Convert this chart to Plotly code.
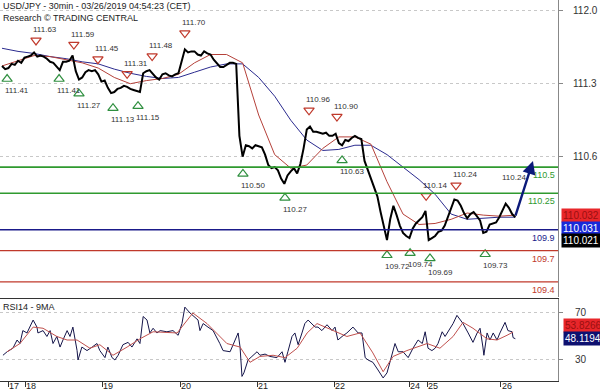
import plotly.graph_objects as go

# ---------------- data ----------------
hours = list(range(161))  # hourly closes, hours since chart start
close = [111.47, 111.44, 111.45, 111.49, 111.48, 111.52, 111.50, 111.55, 111.56, 111.57,
         111.60, 111.56, 111.57, 111.56, 111.54, 111.51, 111.50, 111.47, 111.43, 111.51,
         111.51, 111.52, 111.57, 111.42, 111.34, 111.36, 111.41, 111.43, 111.42, 111.43,
         111.39, 111.32, 111.33, 111.26, 111.21, 111.22, 111.25, 111.26, 111.28, 111.27,
         111.25, 111.24, 111.23, 111.22, 111.40, 111.42, 111.43, 111.39, 111.36, 111.34,
         111.39, 111.40, 111.38, 111.37, 111.39, 111.40, 111.51, 111.63, 111.60, 111.61,
         111.61, 111.58, 111.57, 111.61, 111.59, 111.58, 111.53, 111.49, 111.46, 111.46,
         111.48, 111.50, 111.50, 111.49, 110.80, 110.60, 110.71, 110.70, 110.68, 110.71,
         110.70, 110.69, 110.62, 110.52, 110.49, 110.50, 110.47, 110.39, 110.34, 110.42,
         110.46, 110.49, 110.44, 110.53, 110.68, 110.86, 110.89, 110.84, 110.84, 110.83,
         110.82, 110.83, 110.80, 110.80, 110.82, 110.73, 110.71, 110.76, 110.75, 110.78,
         110.80, 110.78, 110.77, 110.56, 110.48, 110.40, 110.31, 110.22, 110.07, 109.94,
         109.80, 110.00, 110.13, 110.04, 109.94, 109.87, 109.84, 109.82, 109.91, 109.96,
         109.99, 110.02, 110.08, 109.80, 109.82, 109.84, 109.88, 109.89, 109.94, 110.02,
         110.11, 110.19, 110.18, 110.13, 110.06, 110.01, 110.05, 110.07, 110.03, 109.99,
         109.87, 109.88, 109.95, 109.96, 109.97, 110.02, 110.08, 110.15, 110.11, 110.05,
         110.02]

ma_hours = list(range(0, 161, 5))
ma_fast = [111.47, 111.52, 111.57, 111.56, 111.53, 111.50, 111.45, 111.36, 111.30, 111.33,
           111.35, 111.39, 111.50, 111.58, 111.58, 111.50, 111.00, 110.62, 110.49, 110.52,
           110.68, 110.79, 110.79, 110.72, 110.36, 110.05, 109.95, 109.96, 110.00, 110.06,
           110.04, 110.03, 110.04]
ma_slow = [111.64, 111.61, 111.59, 111.56, 111.54, 111.51, 111.49, 111.44, 111.40, 111.37,
           111.35, 111.36, 111.41, 111.46, 111.49, 111.49, 111.36, 111.18, 110.95, 110.76,
           110.66, 110.67, 110.71, 110.71, 110.62, 110.50, 110.38, 110.24, 110.05, 110.00,
           110.01, 110.02, 110.02]

rsi_h = [0.3, 1.6, 3.4, 4.7, 5.6, 6.5, 7.8, 8.7, 9.7, 10.9, 11.2, 12.8, 14.0, 15.0, 15.9,
         17.1, 18.1, 19.0, 20.3, 21.2, 22.1, 23.4, 23.7, 24.9, 26.5, 28.1, 29.6, 30.5, 32.1,
         33.0, 34.3, 35.2, 36.2, 37.7, 39.3, 40.5, 42.1, 43.0, 44.0, 45.2, 46.1, 47.1, 48.3,
         49.3, 51.4, 53.3, 54.9, 56.1, 57.0, 58.6, 59.5, 61.1, 61.7, 62.7, 64.2, 65.8, 67.9,
         68.9, 71.1, 72.6, 73.6, 74.2, 74.8, 75.4, 75.7, 76.7, 77.9, 79.5, 80.4, 82.0, 83.5,
         85.7, 87.3, 88.2, 89.1, 90.4, 91.3, 92.3, 93.5, 94.4, 95.4, 96.6, 97.6, 98.5, 99.7,
         101.3, 102.9, 103.8, 104.7, 106.0, 107.5, 109.4, 111.0, 112.2, 113.2, 114.1, 115.6,
         117.2, 118.8, 120.0, 122.5, 123.5, 125.0, 126.6, 128.1, 129.7, 131.0, 131.9, 132.8,
         134.0, 135.0, 135.9, 137.2, 138.1, 139.0, 140.6, 141.8, 142.8, 143.7, 145.3, 146.8,
         148.1, 149.0, 149.9, 150.2, 151.2, 152.1, 153.1, 154.3, 155.2, 156.8, 157.7, 159.0,
         159.3, 160.0]
rsi_v = [34, 37, 40, 47, 44, 55, 53, 58, 64, 58, 53, 55, 50, 55, 44,
         50, 41, 47, 55, 50, 58, 38, 30, 41, 38, 41, 44, 38, 32,
         41, 32, 30, 34, 43, 45, 41, 48, 44, 67, 64, 53, 57, 53,
         55, 54, 55, 51, 61, 75, 70, 68, 64, 55, 61, 58, 55, 44,
         38, 37, 47, 53, 41, 16, 19, 22, 30, 33, 37, 34, 35, 33,
         32, 37, 28, 37, 50, 53, 43, 53, 61, 64, 61, 58, 58, 55,
         60, 55, 58, 47, 50, 53, 58, 53, 53, 32, 30, 28,
         21.5, 14.7, 19, 44, 37, 37, 32, 40, 47, 44, 54, 40,
         38, 40, 44, 54, 50, 54, 61, 68, 64, 61, 53, 45,
         53, 57, 41, 34, 53, 47, 53, 47, 53, 62, 55, 54,
         49, 48.1]
rsi_ma_h = [1.6, 5.6, 9.7, 12.8, 17.1, 20.3, 23.4, 27.4, 30.5, 34.6, 39.0, 43.0, 47.1, 54.6,
            59.5, 63.9, 70.1, 74.2, 77.3, 80.4, 84.5, 88.2, 92.0, 95.1, 98.2, 103.2, 107.5,
            111.6, 115.6, 118.8, 121.9, 126.2, 132.5, 136.5, 140.6, 143.7, 146.8, 151.2,
            154.3, 157.4, 159.3]
rsi_ma_v = [37, 44, 58, 57, 50, 47, 47, 40, 43, 34, 41, 48, 54, 53,
            70, 61, 44, 41, 28, 33, 34, 32, 40, 53, 61, 55, 50,
            53, 36, 20, 33, 38, 44, 40, 50, 62, 57, 48,
            47, 51, 53.8]

peak_h = [10.6, 22.4, 29.9, 39.0, 46.8, 57.0, 95.7, 104.4, 132.2, 141.5]
peak_v = [111.63, 111.59, 111.45, 111.31, 111.48, 111.70, 110.96, 110.90, 110.14, 110.24]
trough_h = [1.6, 17.8, 24.0, 34.6, 42.4, 75.1, 88.2, 106.0, 120.0, 127.2, 133.4, 150.6]
trough_v = [111.41, 111.41, 111.27, 111.13, 111.15, 110.50, 110.27, 110.63, 109.72, 109.74,
            109.69, 109.73]

levels = [110.5, 110.25, 109.9, 109.7, 109.4]
level_labels = ["110.5", "110.25", "109.9", "109.7", "109.4"]
level_colors = ["#2f9a2f", "#2f9a2f", "#1a1a8a", "#c0392b", "#c0392b"]

day_ticks = [1.9, 7.2, 31.2, 55.5, 79.5, 103.5, 126.9, 132.5, 155.5]
day_labels = ["17", "18", "19", "20", "21", "22", "24", "25", "26"]

arrow_from = (159.9, 110.02)
arrow_to = (165.5, 110.56)
arrow_label = "110.24"

price_ticks = [112.0, 111.3, 110.6]
rsi_ticks = [70, 30]

tag_ask, tag_mid, tag_last = "110.032", "110.031", "110.021"
rsi_last, rsi_ma_last = "48.1194", "53.8266"

# ---------------- figure ----------------
FONT = "Liberation Sans, Arial, sans-serif"
fig = go.Figure()

fig.add_trace(go.Scatter(x=ma_hours, y=ma_slow, mode="lines",
                         line=dict(color="#2b2b8f", width=1), xaxis="x", yaxis="y"))
fig.add_trace(go.Scatter(x=ma_hours, y=ma_fast, mode="lines",
                         line=dict(color="#b5413a", width=1), xaxis="x", yaxis="y"))
fig.add_trace(go.Scatter(x=hours, y=close, mode="lines",
                         line=dict(color="#000000", width=2), xaxis="x", yaxis="y"))

up_off, dn_off = 0.085, -0.065
fig.add_trace(go.Scatter(x=peak_h, y=[v + up_off for v in peak_v], mode="markers",
                         marker=dict(symbol="triangle-down-open", size=9,
                                     color="#c0392b", line=dict(width=1.2)),
                         xaxis="x", yaxis="y"))
fig.add_trace(go.Scatter(x=trough_h, y=[v + dn_off for v in trough_v], mode="markers",
                         marker=dict(symbol="triangle-up-open", size=9,
                                     color="#2f8f3f", line=dict(width=1.2)),
                         xaxis="x", yaxis="y"))

fig.add_trace(go.Scatter(x=rsi_h, y=rsi_v, mode="lines",
                         line=dict(color="#15154a", width=1), xaxis="x2", yaxis="y2"))
fig.add_trace(go.Scatter(x=rsi_ma_h, y=rsi_ma_v, mode="lines",
                         line=dict(color="#c0504d", width=1), xaxis="x2", yaxis="y2"))

ann = []
lab_font = dict(family=FONT, size=8, color="#333333")
for h, v in zip(peak_h, peak_v):
    ann.append(dict(x=h, y=v + up_off, xref="x", yref="y", text=f"{v:.2f}", showarrow=False,
                    xanchor="left", yanchor="bottom", xshift=-5, yshift=4, font=lab_font))
for i, (h, v) in enumerate(zip(trough_h, trough_v)):
    extra = -3 if i == 10 else 0
    ann.append(dict(x=h, y=v + dn_off, xref="x", yref="y", text=f"{v:.2f}", showarrow=False,
                    xanchor="left", yanchor="top", xshift=-4, yshift=-5 + extra, font=lab_font))

shapes = []
for lv, lab, col in zip(levels, level_labels, level_colors):
    shapes.append(dict(type="line", xref="x domain", yref="y", x0=0, x1=1, y0=lv, y1=lv,
                       line=dict(color=col, width=1.6 if col == "#2f9a2f" else 1.4)))
    ann.append(dict(x=1, y=lv, xref="paper", yref="y", text=lab, showarrow=False,
                    xanchor="right", yanchor="top", xshift=-1, yshift=-1,
                    font=dict(family=FONT, size=9, color=col)))

# arrow
ann.append(dict(x=arrow_to[0], y=arrow_to[1], ax=arrow_from[0], ay=arrow_from[1],
                xref="x", yref="y", axref="x", ayref="y", showarrow=True,
                arrowhead=2, arrowsize=1.1, arrowwidth=2.4, arrowcolor="#0c1a7a",
                standoff=0, text=""))
ann.append(dict(x=arrow_from[0], y=arrow_to[1], xref="x", yref="y", text=arrow_label,
                showarrow=False, xanchor="center", yanchor="top", yshift=-10, xshift=-1,
                font=lab_font))

# price tags
ann.append(dict(x=1, y=float(tag_ask), xref="paper", yref="y", text=tag_ask, showarrow=False,
                xanchor="left", xshift=3, bgcolor="#e8262a",
                font=dict(family=FONT, size=10, color="#9a1010")))
ann.append(dict(x=1, y=float(tag_ask), xref="paper", yref="y", text=tag_mid, showarrow=False,
                xanchor="left", xshift=3, yshift=-13, bgcolor="#1a2ad8",
                font=dict(family=FONT, size=10, color="#ffffff")))
ann.append(dict(x=1, y=float(tag_ask), xref="paper", yref="y", text=tag_last, showarrow=False,
                xanchor="left", xshift=3, yshift=-25, bgcolor="#000000",
                font=dict(family=FONT, size=10, color="#ffffff")))
ann.append(dict(x=1, y=float(rsi_last), xref="paper", yref="y2", text=rsi_ma_last,
                showarrow=False, xanchor="left", xshift=5, yshift=13, bgcolor="#e8262a",
                font=dict(family=FONT, size=10, color="#9a1010")))
ann.append(dict(x=1, y=float(rsi_last), xref="paper", yref="y2", text=rsi_last,
                showarrow=False, xanchor="left", xshift=5, bgcolor="#0e1170",
                font=dict(family=FONT, size=10, color="#ffffff")))

# titles
ann.append(dict(x=0, y=1, xref="paper", yref="paper", xanchor="left", yanchor="top",
                text="USD/JPY - 30min - 03/26/2019 04:54:23 (CET)<br>Research © TRADING CENTRAL",
                showarrow=False, align="left", xshift=1, yshift=1,
                font=dict(family=FONT, size=9, color="#222222")))
ann.append(dict(x=0, y=1, xref="paper", yref="y2 domain", xanchor="left", yanchor="top",
                text="RSI14 - 9MA", showarrow=False, xshift=1, yshift=-1,
                font=dict(family=FONT, size=9, color="#222222")))

# day labels
for t, lab in zip(day_ticks, day_labels):
    ann.append(dict(x=t, y=0, xref="x2", yref="paper", text=lab, showarrow=False,
                    xanchor="left", yanchor="top", xshift=-1, yshift=2,
                    font=dict(family=FONT, size=9, color="#222222")))

y_top = 112.1026
y_bot = 109.255
fig.update_layout(
    width=600, height=392, margin=dict(l=0, r=42, t=0, b=11),
    paper_bgcolor="white", plot_bgcolor="white", showlegend=False,
    xaxis=dict(range=[-0.62, 173.3], domain=[0, 1], anchor="y", showticklabels=False,
               showgrid=False, zeroline=False, showline=False, ticks=""),
    xaxis2=dict(range=[-0.62, 173.3], domain=[0, 1], anchor="y2", matches="x",
                showticklabels=False, showgrid=False, zeroline=False, showline=True,
                mirror=True, linecolor="#333333", linewidth=1.2,
                tickvals=day_ticks, ticks="outside", ticklen=5, tickcolor="#333333"),
    yaxis=dict(domain=[0.2205, 1], range=[y_bot, y_top], side="right", anchor="x",
               tickvals=price_ticks, ticktext=[f"{v:.1f}" for v in price_ticks],
               ticks="outside", ticklen=4, tickcolor="#888888", ticklabelstandoff=8,
               showline=True, linecolor="#888888", linewidth=1,
               showgrid=True, gridcolor="#c8c8c8", griddash="dot", zeroline=False,
               tickfont=dict(family=FONT, size=10, color="#333333")),
    yaxis2=dict(domain=[0, 0.2152], range=[12.1, 81.9], side="right", anchor="x2",
                tickvals=rsi_ticks, ticks="outside", ticklen=4, tickcolor="#888888",
                ticklabelstandoff=10,
                showline=True, linecolor="#888888", linewidth=1,
                showgrid=True, gridcolor="#c8c8c8", griddash="dot", zeroline=False,
                tickfont=dict(family=FONT, size=10, color="#333333")),
    annotations=ann, shapes=shapes,
)

fig.write_html("out.html")
